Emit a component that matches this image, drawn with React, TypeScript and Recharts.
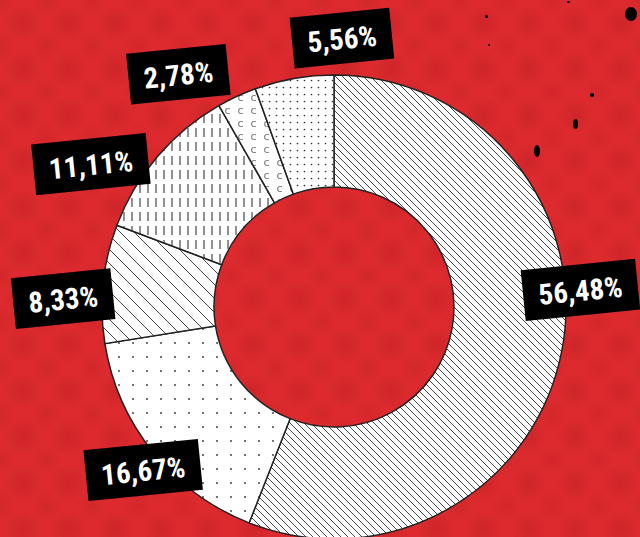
import React from 'react';
import { PieChart, Pie, Cell } from 'recharts';

// answers counted per category (drawn as share of the total)
const categories = ['A', 'B', 'C', 'D', 'E', 'F'];
const counts = [61, 18, 9, 12, 3, 6];
const percentLabels = ['56,48%', '16,67%', '8,33%', '11,11%', '2,78%', '5,56%'];

// label placement: angular shift from the slice middle (deg, clockwise) and radius
const labelShift = [-14.7, -1.7, -4, -10, -9, 11.6];
const labelRadius = [247, 251, 271, 282, 280, 269];
const patternIds = ['hatchDense', 'dotsWide', 'hatchWide', 'dashes', 'letters', 'dotsDense'];

const W = 640;
const H = 537;
const CX = 334;
const CY = 307;
const RAD = Math.PI / 180;

const data = categories.map((name, i) => ({ name, value: counts[i], label: percentLabels[i] }));

const renderLabel = (props: any) => {
  const { cx, cy, midAngle, index } = props;
  const a = midAngle - labelShift[index];
  const r = labelRadius[index];
  const x = cx + r * Math.cos(a * RAD);
  const y = cy - r * Math.sin(a * RAD);
  const text = percentLabels[index];
  const w = 100 + (text.length - 5) * 15;
  return (
    <g transform={`translate(${x},${y}) rotate(-5.7)`}>
      <rect x={-w / 2} y={-25.5} width={w} height={51} fill="#000" />
      <text
        x={0}
        y={1}
        textAnchor="middle"
        dominantBaseline="central"
        fill="#fff"
        fontSize={29}
        fontWeight={700}
        fontFamily="'Roboto Condensed', 'Liberation Sans Narrow', 'DejaVu Sans Condensed', Roboto, sans-serif"
      >
        {text}
      </text>
    </g>
  );
};

const splatters = [
  { x: 631, y: 14, rx: 6, ry: 7 },
  { x: 486, y: 16, rx: 1.5, ry: 1.5 },
  { x: 568, y: 2, rx: 1.5, ry: 1.2 },
  { x: 489, y: 45, rx: 1, ry: 1 },
  { x: 592, y: 95, rx: 2, ry: 1.6 },
  { x: 575, y: 124, rx: 2.5, ry: 5 },
  { x: 537, y: 151, rx: 3, ry: 6 },
];

export default function App() {
  return (
    <div
      style={{
        position: 'fixed',
        left: 0,
        top: 0,
        width: W,
        height: H,
        overflow: 'hidden',
        backgroundColor: '#dc2a2e',
        backgroundImage:
          'radial-gradient(circle, rgba(150,18,20,0.2) 0px, rgba(150,18,20,0) 18px), radial-gradient(circle, rgba(150,18,20,0.12) 0px, rgba(150,18,20,0) 15px)',
        backgroundSize: '46px 46px, 46px 46px',
        backgroundPosition: '0px 0px, 23px 23px',
      }}
    >
      {splatters.map((s, i) => (
        <div
          key={i}
          style={{
            position: 'absolute',
            left: s.x - s.rx,
            top: s.y - s.ry,
            width: s.rx * 2,
            height: s.ry * 2,
            borderRadius: '50%',
            background: '#000',
          }}
        />
      ))}
      <div style={{ position: 'absolute', left: 0, top: 0 }}>
        <PieChart width={W} height={H} margin={{ top: 0, right: 0, bottom: 0, left: 0 }}>
          <defs>
            <pattern id="hatchDense" patternUnits="userSpaceOnUse" width={7} height={7}>
              <rect width={7} height={7} fill="#fff" />
              <path d="M-1,-1 L8,8 M-1,6 L1,8 M6,-1 L8,1" stroke="#333" strokeWidth={0.9} />
            </pattern>
            <pattern id="hatchWide" patternUnits="userSpaceOnUse" width={14} height={14}>
              <rect width={14} height={14} fill="#fff" />
              <path d="M-1,-1 L15,15 M-1,13 L1,15 M13,-1 L15,1" stroke="#333" strokeWidth={0.9} />
            </pattern>
            <pattern id="dotsWide" patternUnits="userSpaceOnUse" width={14} height={14}>
              <rect width={14} height={14} fill="#fff" />
              <circle cx={7} cy={7} r={0.9} fill="#333" />
            </pattern>
            <pattern id="dotsDense" patternUnits="userSpaceOnUse" width={7} height={7}>
              <rect width={7} height={7} fill="#fff" />
              <circle cx={3.5} cy={3.5} r={0.85} fill="#333" />
            </pattern>
            <pattern id="dashes" patternUnits="userSpaceOnUse" width={8} height={14}>
              <rect width={8} height={14} fill="#fff" />
              <path d="M4,2 L4,11" stroke="#222" strokeWidth={1} />
            </pattern>
            <pattern id="letters" patternUnits="userSpaceOnUse" width={13} height={13}>
              <rect width={13} height={13} fill="#fff" />
              <text x={6.5} y={10} textAnchor="middle" fontSize={11} fill="#777" fontFamily="DejaVu Sans, sans-serif">
                c
              </text>
            </pattern>
          </defs>
          <Pie
            data={data}
            dataKey="value"
            nameKey="name"
            cx={CX}
            cy={CY}
            innerRadius={120}
            outerRadius={232}
            startAngle={90}
            endAngle={-270}
            stroke="#222"
            strokeWidth={1.5}
            label={renderLabel}
            labelLine={false}
            isAnimationActive={false}
          >
            {data.map((d, i) => (
              <Cell key={d.name} fill={`url(#${patternIds[i]})`} stroke="#222" strokeWidth={1.5} />
            ))}
          </Pie>
        </PieChart>
      </div>
    </div>
  );
}
